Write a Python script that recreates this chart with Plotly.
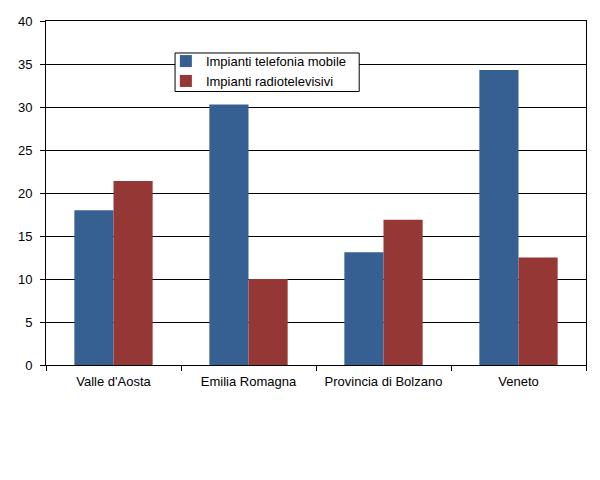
import plotly.graph_objects as go

regions = ["Valle d'Aosta", "Emilia Romagna", "Provincia di Bolzano", "Veneto"]
telefonia_mobile = [18.0, 30.3, 13.1, 34.3]
radiotelevisivi = [21.4, 10.0, 16.9, 12.5]
y_ticks = [0, 5, 10, 15, 20, 25, 30, 35, 40]

font = dict(family="Arial, Liberation Sans, sans-serif", size=13, color="black")

fig = go.Figure()
fig.add_trace(go.Bar(x=regions, y=telefonia_mobile, name="Impianti telefonia mobile",
                     marker=dict(color="#376092", line=dict(width=0))))
fig.add_trace(go.Bar(x=regions, y=radiotelevisivi, name="Impianti radiotelevisivi",
                     marker=dict(color="#953735", line=dict(width=0))))

# legend frame drawn as a shape so it can be tighter than plotly's own border
fig.add_shape(type="rect", xref="paper", yref="paper",
              x0=0.239, x1=0.580, y0=0.795, y1=0.907,
              line=dict(color="black", width=1), fillcolor="white", layer="above")

# page body keeps an 8px margin, so the figure is a bit smaller than the window
fig.update_layout(
    width=584, height=464,
    margin=dict(l=38, r=6, t=13, b=107, autoexpand=False),
    paper_bgcolor="white", plot_bgcolor="white",
    font=font,
    barmode="group", bargap=0.42, bargroupgap=0,
    legend=dict(x=0.222, y=0.927, xanchor="left", yanchor="top",
                bgcolor="rgba(0,0,0,0)", borderwidth=0,
                font=font, tracegroupgap=0, itemwidth=30),
    xaxis=dict(showline=True, linecolor="black", linewidth=1, mirror=True,
               ticks="outside", ticklen=5, tickcolor="black", tickson="boundaries",
               showgrid=False, tickfont=font, ticklabelstandoff=4),
    yaxis=dict(range=[0, 40], tickvals=y_ticks, showline=True, linecolor="black",
               linewidth=1, mirror=True, ticks="outside", ticklen=5, tickcolor="black",
               showgrid=True, gridcolor="black", gridwidth=1, zeroline=False,
               tickfont=font, ticklabelstandoff=5),
)

fig.write_html("out.html")
